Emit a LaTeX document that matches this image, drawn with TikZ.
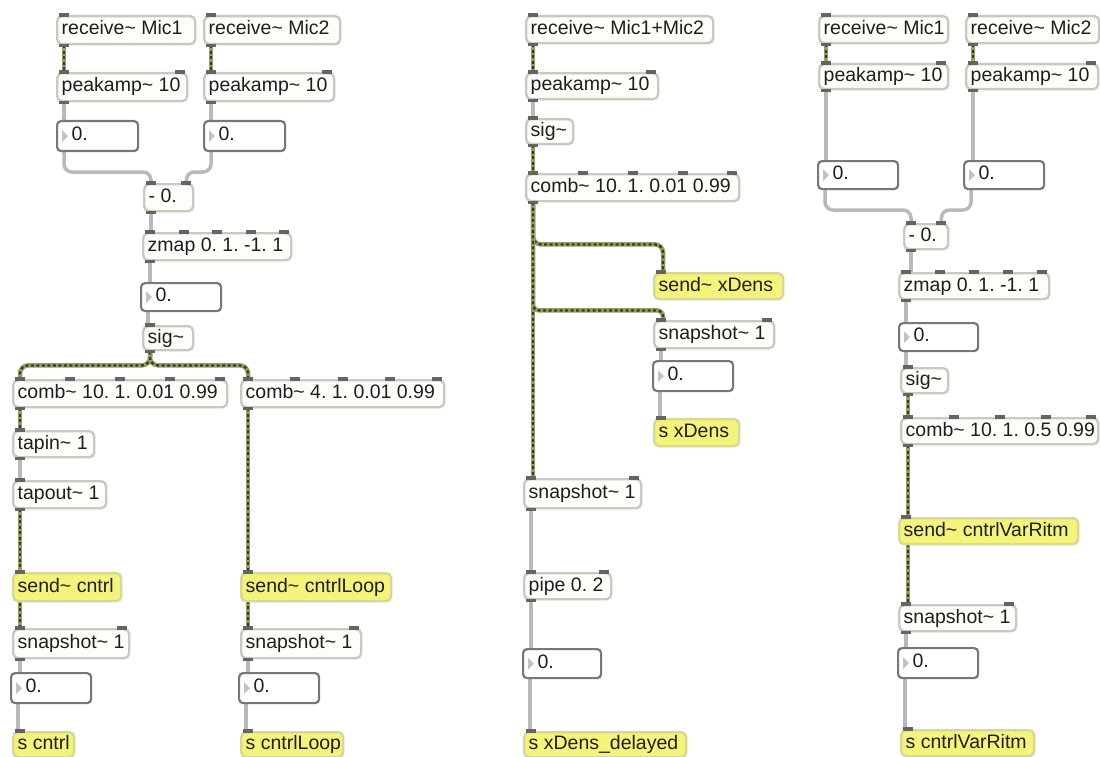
\documentclass[tikz,border=0pt]{standalone}
\usepackage{fontspec}
\setmainfont{Liberation Sans}
\usetikzlibrary{calc}
\pgfdeclarelayer{bg}
\pgfsetlayers{bg,main}
\definecolor{objborder}{RGB}{200,202,190}
\definecolor{objfill}{RGB}{253,253,250}
\definecolor{numborder}{RGB}{120,120,120}
\definecolor{yel}{RGB}{244,244,122}
\definecolor{yelborder}{RGB}{215,215,150}
\definecolor{barc}{RGB}{100,100,100}
\definecolor{sigbase}{RGB}{150,158,100}
\definecolor{sigdark}{RGB}{50,62,30}
\definecolor{ctrlc}{RGB}{185,185,185}
\definecolor{txt}{RGB}{30,30,30}
\definecolor{tri}{RGB}{195,195,195}
\newcommand\tld{\textasciitilde}
\tikzset{
 base/.style={rectangle, rounded corners=5pt, line width=2.4pt, inner xsep=4.5pt, inner ysep=0pt, anchor=north west, text=txt, font=\fontsize{19.5}{24}\selectfont\frenchspacing},
 obj/.style={base, draw=objborder, fill=objfill},
 sendobj/.style={base, draw=yelborder, fill=yel},
 numobj/.style={base, draw=numborder, fill=white, rounded corners=4pt, line width=2.2pt},
 ctrl/.style={draw=ctrlc, line width=3.5pt, rounded corners=8pt},
 sig/.style={draw=sigdark, line width=2.3pt, dash pattern=on 3pt off 2.5pt, rounded corners=8pt, preaction={draw=sigbase, line width=4.5pt, solid, rounded corners=8pt}},
}
\newcommand\mobj[7]{\node[#1, minimum width={#5-#3}, minimum height={#6-#4}] (#2) at (#3,#4) {\makebox[\dimexpr #5pt-#3pt-9pt\relax][l]{\strut #7}};}
\newcommand\nbox[5]{\mobj{numobj}{#1}{#2}{#3}{#4}{#5}{\hspace{10pt}0.}\fill[tri] ($(#1.west)+(6,-6)$) -- ($(#1.west)+(12,0)$) -- ($(#1.west)+(6,6)$) -- cycle;}
\newcommand\bars[3]{%
 \ifnum#2>0 \coordinate (bL) at ($(#1.north west)+(8,0)$); \coordinate (bR) at ($(#1.north east)+(-8,0)$);
 \foreach \k in {1,...,#2}{\pgfmathsetmacro\bt{(\k-1)/max(#2-1,1)}\fill[barc] ($(bL)!\bt!(bR)$) +(-5,-1.6) rectangle +(5,1.6);}\fi
 \ifnum#3>0 \fill[barc] ($(#1.south west)+(8,0)$) +(-5,-1.6) rectangle +(5,1.6);\fi}
\newcommand\vw[3]{\draw[#1] ($(#2.south west)+(8,0)$) coordinate (w) -- (w |- #3.north);}
\begin{document}
\begin{tikzpicture}[x=1pt,y=-1pt]
\useasboundingbox (0,0) rectangle (1100,757);
% ---------- patch 1
\mobj{obj}{recvA}{56}{15}{194}{43}{receive\tld{} Mic1}
\mobj{obj}{recvB}{203}{15}{339}{43}{receive\tld{} Mic2}
\mobj{obj}{peakA}{56}{72}{186}{100}{peakamp\tld{} 10}
\mobj{obj}{peakB}{203}{72}{333}{100}{peakamp\tld{} 10}
\nbox{numA}{56}{120}{137}{150}
\nbox{numB}{203}{120}{284}{150}
\mobj{obj}{minusA}{143}{183}{192}{210}{- 0.}
\mobj{obj}{zmapA}{142}{232}{290}{259}{zmap 0. 1. -1. 1}
\nbox{numC}{140}{282}{220}{310}
\mobj{obj}{sigA}{142}{325}{192}{349}{sig\tld}
\mobj{obj}{combA}{12}{379}{226}{406}{comb\tld{} 10. 1. 0.01 0.99}
\mobj{obj}{combB}{240}{379}{443}{406}{comb\tld{} 4. 1. 0.01 0.99}
\mobj{obj}{tapin}{12}{430}{93}{456}{tapin\tld{} 1}
\mobj{obj}{tapout}{12}{480}{105}{507}{tapout\tld{} 1}
\mobj{sendobj}{sendA}{12}{572}{120}{600}{send\tld{} cntrl}
\mobj{sendobj}{sendB}{240}{572}{390}{600}{send\tld{} cntrlLoop}
\mobj{obj}{snapA}{12}{628}{128}{657}{snapshot\tld{} 1}
\mobj{obj}{snapB}{240}{628}{360}{657}{snapshot\tld{} 1}
\nbox{numD}{10}{672}{90}{702}
\nbox{numE}{238}{672}{318}{702}
\mobj{sendobj}{sA}{12}{731}{73}{756}{s cntrl}
\mobj{sendobj}{sB}{240}{731}{342}{756}{s cntrlLoop}
% ---------- patch 2
\mobj{obj}{recvM}{525}{15}{712}{42}{receive\tld{} Mic1+Mic2}
\mobj{obj}{peakM}{525}{72}{657}{98}{peakamp\tld{} 10}
\mobj{obj}{sigM}{525}{118}{572}{143}{sig\tld}
\mobj{obj}{combM}{525}{173}{738}{200}{comb\tld{} 10. 1. 0.01 0.99}
\mobj{sendobj}{sendX}{653}{272}{782}{298}{send\tld{} xDens}
\mobj{obj}{snapX}{653}{320}{773}{347}{snapshot\tld{} 1}
\nbox{numX}{652}{360}{732}{390}
\mobj{sendobj}{sX}{653}{418}{738}{445}{s xDens}
\mobj{obj}{snapM}{523}{478}{640}{507}{snapshot\tld{} 1}
\mobj{obj}{pipe}{523}{572}{610}{598}{pipe 0. 2}
\nbox{numM}{522}{648}{600}{677}
\mobj{sendobj}{sDel}{523}{731}{685}{756}{s xDens\_delayed}
% ---------- patch 3
\mobj{obj}{recvR}{818}{15}{947}{42}{receive\tld{} Mic1}
\mobj{obj}{recvS}{965}{15}{1098}{42}{receive\tld{} Mic2}
\mobj{obj}{peakR}{818}{63}{947}{88}{peakamp\tld{} 10}
\mobj{obj}{peakS}{965}{63}{1097}{88}{peakamp\tld{} 10}
\nbox{numR}{817}{160}{897}{188}
\nbox{numS}{963}{160}{1043}{188}
\mobj{obj}{minusR}{903}{223}{947}{248}{- 0.}
\mobj{obj}{zmapR}{898}{272}{1048}{298}{zmap 0. 1. -1. 1}
\nbox{numT}{898}{322}{977}{350}
\mobj{obj}{sigR}{900}{367}{947}{392}{sig\tld}
\mobj{obj}{combR}{900}{417}{1097}{443}{comb\tld{} 10. 1. 0.5 0.99}
\mobj{sendobj}{sendR}{898}{517}{1077}{543}{send\tld{} cntrlVarRitm}
\mobj{obj}{snapR}{898}{604}{1015}{630}{snapshot\tld{} 1}
\nbox{numU}{897}{647}{977}{677}
\mobj{sendobj}{sR}{900}{729}{1033}{755}{s cntrlVarRitm}
% ---------- inlets / outlets
\bars{recvA}{1}{1}\bars{recvB}{1}{1}\bars{peakA}{2}{1}\bars{peakB}{2}{1}
\bars{minusA}{2}{1}\bars{zmapA}{5}{1}\bars{sigA}{1}{1}\bars{combA}{5}{1}\bars{combB}{5}{1}
\bars{tapin}{1}{1}\bars{tapout}{1}{1}\bars{sendA}{1}{0}\bars{sendB}{1}{0}
\bars{snapA}{2}{1}\bars{snapB}{2}{1}\bars{sA}{1}{0}\bars{sB}{1}{0}
\bars{recvM}{1}{1}\bars{peakM}{2}{1}\bars{sigM}{1}{1}\bars{combM}{5}{1}
\bars{sendX}{1}{0}\bars{snapX}{2}{1}\bars{sX}{1}{0}\bars{snapM}{2}{1}\bars{pipe}{2}{1}\bars{sDel}{1}{0}
\bars{recvR}{1}{1}\bars{recvS}{1}{1}\bars{peakR}{2}{1}\bars{peakS}{2}{1}
\bars{minusR}{2}{1}\bars{zmapR}{5}{1}\bars{sigR}{1}{1}\bars{combR}{5}{1}
\bars{sendR}{1}{0}\bars{snapR}{2}{1}\bars{sR}{1}{0}
% ---------- wires
\begin{pgfonlayer}{bg}
\fill[white] (0,0) rectangle (1100,757);
% patch 1
\vw{sig}{recvA}{peakA}\vw{sig}{recvB}{peakB}
\vw{ctrl}{peakA}{numA}\vw{ctrl}{peakB}{numB}
\draw[ctrl] ($(numA.south west)+(8,0)$) |- ($(minusA.north west)+(8,-11)$) -- ($(minusA.north west)+(8,0)$);
\draw[ctrl] ($(numB.south west)+(8,0)$) |- ($(minusA.north east)+(-8,-11)$) -- ($(minusA.north east)+(-8,0)$);
\vw{ctrl}{minusA}{zmapA}\vw{ctrl}{zmapA}{numC}\vw{ctrl}{numC}{sigA}
\draw[sig] ($(sigA.south west)+(8,0)$) coordinate (w) -- ($(w)+(0,14)$) -| ($(combA.north west)+(8,0)$);
\draw[sig] ($(sigA.south west)+(8,0)$) coordinate (w) -- ($(w)+(0,14)$) -| ($(combB.north west)+(8,0)$);
\vw{sig}{combA}{tapin}\vw{ctrl}{tapin}{tapout}\vw{sig}{tapout}{snapA}
\vw{sig}{combB}{snapB}
\vw{ctrl}{snapA}{numD}\vw{ctrl}{numD}{sA}\vw{ctrl}{snapB}{numE}\vw{ctrl}{numE}{sB}
% patch 2
\vw{sig}{recvM}{peakM}\vw{ctrl}{peakM}{sigM}\vw{sig}{sigM}{combM}
\vw{sig}{combM}{snapM}
\draw[sig] ($(combM.south west)+(8,0)$) coordinate (w) -- ($(w)+(0,42)$) -| ($(sendX.north west)+(10,0)$);
\draw[sig, rounded corners=6pt] ($(combM.south west)+(8,0)$) coordinate (w) -- ($(w)+(0,108)$) -| ($(snapX.north west)+(10,0)$);
\vw{ctrl}{snapX}{numX}\vw{ctrl}{numX}{sX}
\vw{ctrl}{snapM}{pipe}\vw{ctrl}{pipe}{numM}\vw{ctrl}{numM}{sDel}
% patch 3
\vw{sig}{recvR}{peakR}\vw{sig}{recvS}{peakS}
\vw{ctrl}{peakR}{numR}\vw{ctrl}{peakS}{numS}
\draw[ctrl] ($(numR.south west)+(8,0)$) |- ($(minusR.north west)+(8,-13)$) -- ($(minusR.north west)+(8,0)$);
\draw[ctrl] ($(numS.south west)+(8,0)$) |- ($(minusR.north east)+(-8,-13)$) -- ($(minusR.north east)+(-8,0)$);
\vw{ctrl}{minusR}{zmapR}\vw{ctrl}{zmapR}{numT}\vw{ctrl}{numT}{sigR}
\vw{sig}{sigR}{combR}\vw{sig}{combR}{snapR}
\vw{ctrl}{snapR}{numU}\vw{ctrl}{numU}{sR}
\end{pgfonlayer}
\end{tikzpicture}
\end{document}
